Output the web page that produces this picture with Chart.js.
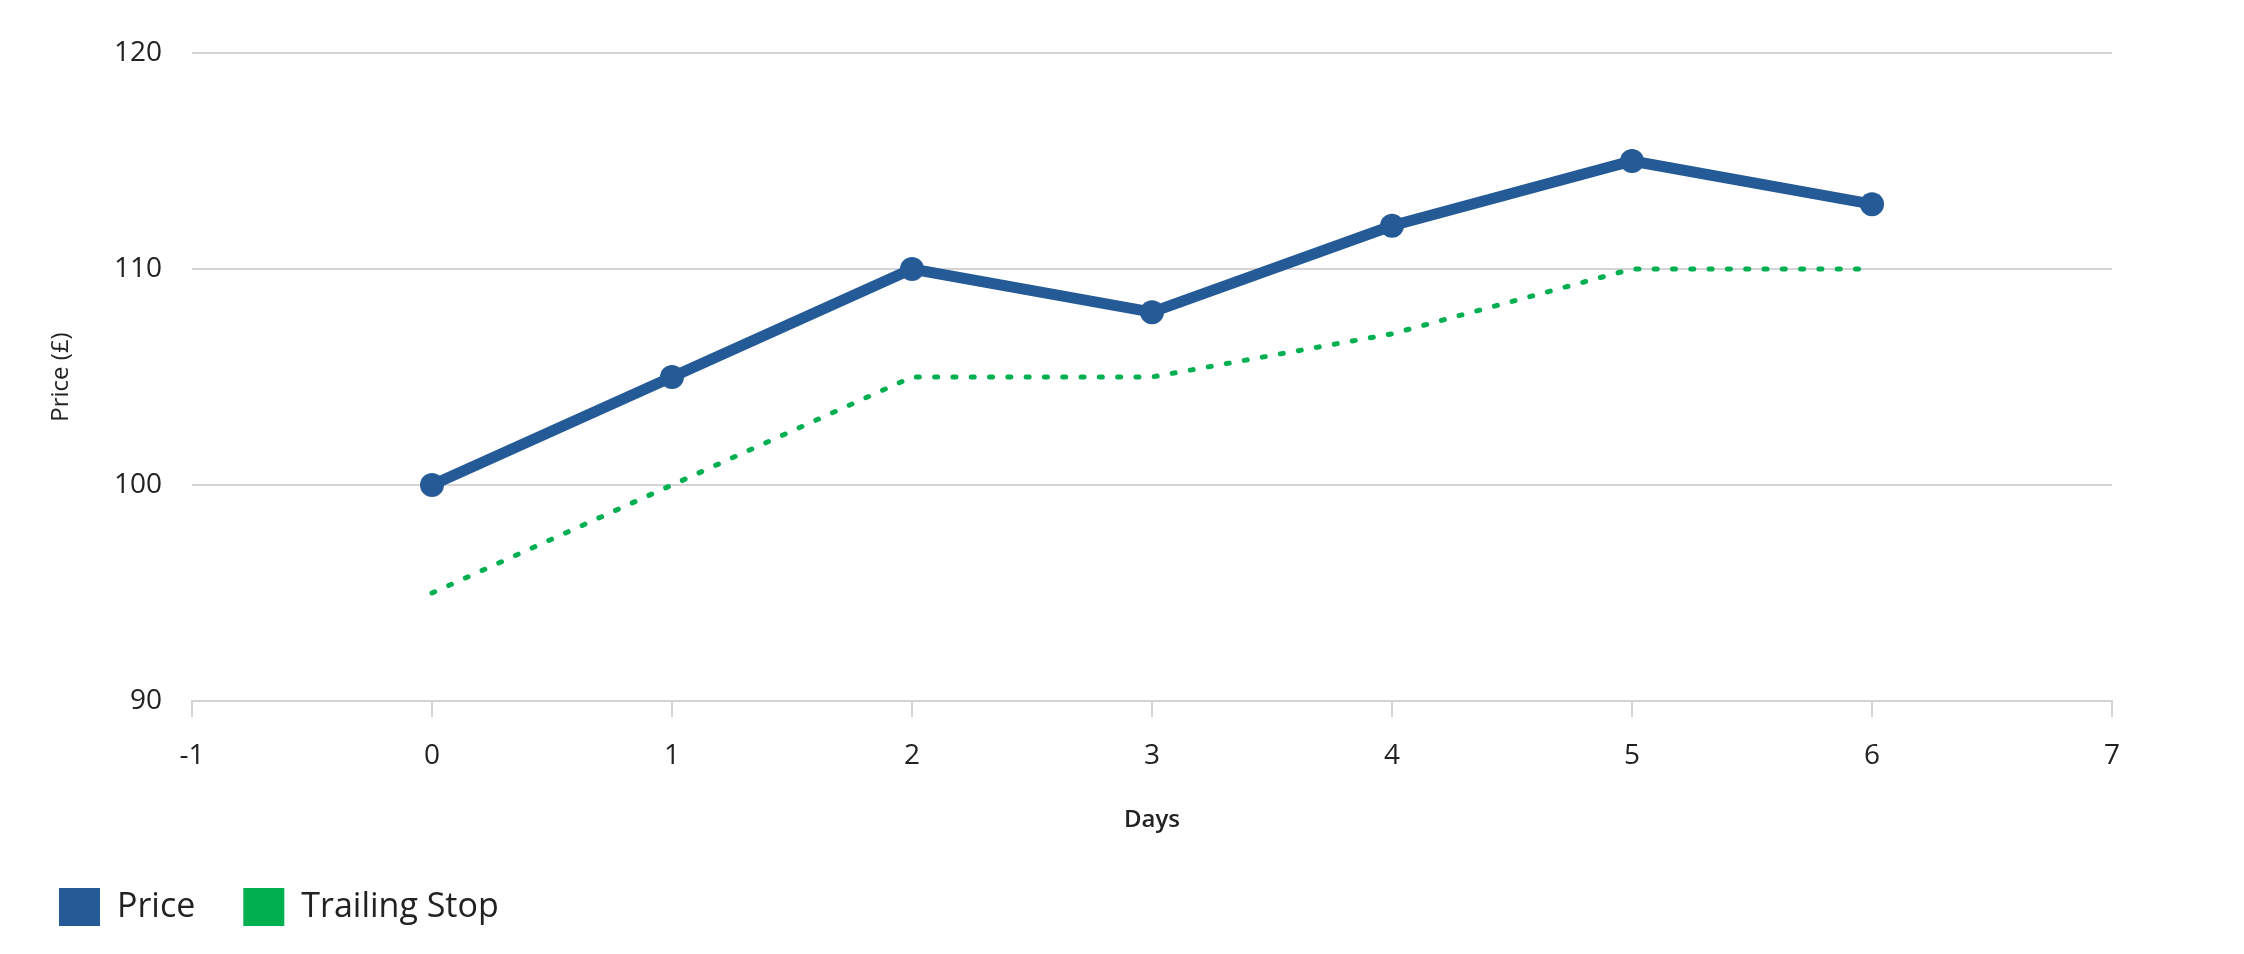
<!DOCTYPE html>
<html>
<head>
<meta charset="utf-8">
<script src="https://cdn.jsdelivr.net/npm/chart.js@4"></script>
<style>
  html, body { margin: 0; padding: 0; background: #fff; }
  #wrap { width: 2244px; height: 954px; position: relative; }
</style>
</head>
<body>
<div id="wrap"><canvas id="chart"></canvas></div>
<script>
const days = [0, 1, 2, 3, 4, 5, 6];
const price = [100, 105, 110, 108, 112, 115, 113];
const trailingStop = [95, 100, 105, 105, 107, 110, 110];
const xTicks = [-1, 0, 1, 2, 3, 4, 5, 6, 7];
const yTicks = [90, 100, 110, 120];

const textColor = "#222222";
const gridColor = "#d4d4d4";
const blue = "#245a96";
const green = "#00b050";
const fontFamily = "'Open Sans', 'Noto Sans', sans-serif";

const toPoints = (ys) => days.map((d, i) => ({ x: d, y: ys[i] }));

const ctx = document.getElementById("chart").getContext("2d");

new Chart(ctx, {
  type: "line",
  data: {
    datasets: [
      {
        label: "Price",
        data: toPoints(price),
        borderColor: blue,
        backgroundColor: blue,
        borderWidth: 11,
        pointRadius: 12,
        pointBackgroundColor: blue,
        pointBorderWidth: 0,
        tension: 0
      },
      {
        label: "Trailing Stop",
        data: toPoints(trailingStop),
        borderColor: green,
        backgroundColor: green,
        borderWidth: 5,
        borderDash: [3, 15.3],
        borderCapStyle: "round",
        pointRadius: 0,
        tension: 0
      }
    ]
  },
  options: {
    responsive: true,
    maintainAspectRatio: false,
    animation: false,
    events: [],
    layout: { padding: { left: 11, right: 132, top: 53, bottom: 18 } },
    plugins: {
      tooltip: { enabled: false },
      legend: {
        position: "bottom",
        align: "start",
        labels: {
          boxWidth: 41,
          boxHeight: 38,
          padding: 48,
          color: textColor,
          font: { family: fontFamily, size: 34 },
          generateLabels(chart) {
            const items = Chart.defaults.plugins.legend.labels.generateLabels(chart);
            items.forEach(it => { it.lineDash = []; it.lineWidth = 0; });
            return items;
          }
        }
      }
    },
    scales: {
      x: {
        type: "linear",
        min: xTicks[0],
        max: xTicks[xTicks.length - 1],
        afterBuildTicks: (scale) => { scale.ticks = xTicks.map(v => ({ value: v })); },
        afterFit: (scale) => { scale.height = 139; },
        grid: {
          drawOnChartArea: false,
          drawTicks: true,
          tickLength: 16,
          color: gridColor,
          lineWidth: 2
        },
        border: { display: true, color: gridColor, width: 2 },
        ticks: {
          padding: 22,
          color: textColor,
          font: { family: fontFamily, size: 28 },
          maxRotation: 0
        },
        title: {
          display: true,
          text: "Days",
          color: textColor,
          font: { family: fontFamily, size: 24, weight: "600" },
          padding: { top: 0, bottom: 5 }
        }
      },
      y: {
        min: yTicks[0],
        max: yTicks[yTicks.length - 1],
        afterBuildTicks: (scale) => { scale.ticks = yTicks.map(v => ({ value: v })); },
        afterFit: (scale) => { scale.width = 181; },
        grid: {
          drawTicks: false,
          color: gridColor,
          lineWidth: 2
        },
        border: { display: false },
        ticks: {
          padding: 30,
          color: textColor,
          font: { family: fontFamily, size: 28 }
        },
        title: {
          display: true,
          text: "Price (£)",
          color: textColor,
          font: { family: fontFamily, size: 24 },
          padding: { top: 36, bottom: 0 }
        }
      }
    }
  }
});
</script>
</body>
</html>
